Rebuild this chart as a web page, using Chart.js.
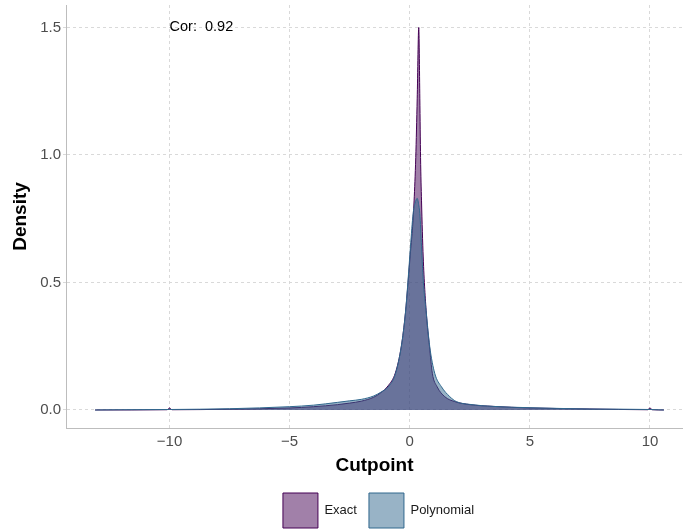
<!DOCTYPE html>
<html lang="en">
<head>
    <meta charset="UTF-8">
    <title>Cutpoint Density</title>
    <script src="https://cdn.jsdelivr.net/npm/chart.js"></script>
    <style>
        body { margin: 0; background: #fff; }
        .chart-box { width: 683px; height: 529px; }
    </style>
</head>
<body>
    <div class="chart-box">
        <canvas id="density-chart"></canvas>
    </div>

    <script>
    // Density curves
    const exactX = [-13.1, -10.1, -10, -9.9, -7.5, -5, -4, -3, -2.5, -2, -1.5, -1.2, -0.9, -0.6, -0.35, -0.18, -0.07,
                    0.03, 0.12, 0.18, 0.25, 0.31, 0.375, 0.42, 0.45, 0.49, 0.56, 0.69, 0.82, 0.94, 1.14, 1.46, 1.87,
                    2.5, 3.5, 5, 7.5, 9.9, 10, 10.1, 10.58];
    const exactY = [0, 0.001, 0.008, 0.001, 0.003, 0.008, 0.013, 0.021, 0.027, 0.035, 0.05, 0.068, 0.095, 0.145, 0.25, 0.38, 0.5,
                    0.62, 0.72, 0.82, 0.99, 1.22, 1.5, 1.22, 0.99, 0.82, 0.6, 0.38, 0.25, 0.144, 0.091, 0.052, 0.033,
                    0.021, 0.014, 0.008, 0.004, 0.001, 0.008, 0.001, 0];

    const polyX = [-13.1, -12, -10, -7.5, -5, -4, -3, -2.5, -2, -1.5, -1.2, -0.9, -0.6, -0.35, -0.18, -0.07,
                   0.03, 0.14, 0.22, 0.31, 0.38, 0.42, 0.49, 0.56, 0.69, 0.83, 1.04, 1.32, 1.67, 1.94,
                   2.5, 3.5, 5, 7.5, 10, 10.58];
    const polyY = [0, 0.001, 0.002, 0.005, 0.013, 0.019, 0.03, 0.036, 0.042, 0.055, 0.07, 0.09, 0.14, 0.25, 0.38, 0.51,
                   0.64, 0.77, 0.81, 0.83, 0.8, 0.77, 0.64, 0.51, 0.38, 0.25, 0.144, 0.091, 0.052, 0.033,
                   0.022, 0.014, 0.009, 0.004, 0.002, 0];

    const xTicks = [-10, -5, 0, 5, 10];
    const yTicks = [0, 0.5, 1, 1.5];
    const corLabel = 'Cor:  0.92';

    const toPoints = (xs, ys) => xs.map((x, i) => ({ x: x, y: ys[i] }));

    // pull the legend down a bit and centre it under the panel
    const legendShift = {
        id: 'legendShift',
        beforeInit(chart) {
            const fit = chart.legend.fit;
            chart.legend.fit = function () {
                fit.bind(chart.legend)();
                this.height -= 9;
            };
        },
        afterLayout(chart) {
            chart.legend.left += 37;
            chart.legend.right += 37;
        }
    };

    // correlation note in the top left
    const corNote = {
        id: 'corNote',
        afterDatasetsDraw(chart) {
            const ctx = chart.ctx;
            ctx.save();
            ctx.font = '14.5px "Liberation Sans", Arial, sans-serif';
            ctx.fillStyle = '#000';
            ctx.textAlign = 'left';
            ctx.textBaseline = 'middle';
            ctx.fillText(corLabel, chart.scales.x.getPixelForValue(-10), chart.scales.y.getPixelForValue(1.5));
            ctx.restore();
        }
    };

    const tickFont = { family: '"Liberation Sans", Arial, sans-serif', size: 15 };
    const titleFont = { family: '"Liberation Sans", Arial, sans-serif', size: 19, weight: 'bold' };

    new Chart(document.getElementById('density-chart'), {
        type: 'line',
        data: {
            datasets: [
                {
                    label: 'Polynomial',
                    data: toPoints(polyX, polyY),
                    borderColor: '#31688E',
                    backgroundColor: 'rgba(49,104,142,0.5)',
                    borderWidth: 1,
                    fill: 'origin',
                    pointRadius: 0,
                    cubicInterpolationMode: 'monotone'
                },
                {
                    label: 'Exact',
                    data: toPoints(exactX, exactY),
                    borderColor: '#440154',
                    backgroundColor: 'rgba(68,1,84,0.5)',
                    borderWidth: 1,
                    fill: 'origin',
                    pointRadius: 0,
                    cubicInterpolationMode: 'monotone'
                }
            ]
        },
        options: {
            responsive: true,
            maintainAspectRatio: false,
            animation: false,
            layout: { padding: { top: 5, right: 0, bottom: 0, left: 0 } },
            plugins: {
                tooltip: { enabled: false },
                legend: {
                    position: 'bottom',
                    reverse: true,
                    labels: {
                        boxWidth: 35,
                        boxHeight: 35,
                        padding: 12,
                        color: '#1A1A1A',
                        font: { family: '"Liberation Sans", Arial, sans-serif', size: 13 }
                    }
                }
            },
            scales: {
                x: {
                    type: 'linear',
                    min: -14.31,
                    max: 11.375,
                    afterBuildTicks: (scale) => { scale.ticks = xTicks.map(v => ({ value: v })); },
                    afterFit: (scale) => {
                        scale.height = 53;
                        scale.paddingLeft = 0;
                        scale.paddingRight = 0;
                    },
                    ticks: {
                        color: '#4D4D4D',
                        font: tickFont,
                        padding: 5,
                        maxRotation: 0,
                        callback: (v) => String(v).replace('-', '\u2212')
                    },
                    grid: {
                        color: '#D9D9D9',
                        drawTicks: false
                    },
                    border: { display: true, color: '#BDBDBD', width: 1, dash: [3, 3] },
                    title: {
                        display: true,
                        text: 'Cutpoint',
                        color: '#000',
                        font: titleFont,
                        padding: { top: 0, bottom: 4 }
                    }
                },
                y: {
                    type: 'linear',
                    min: -0.0706,
                    max: 1.588,
                    afterBuildTicks: (scale) => { scale.ticks = yTicks.map(v => ({ value: v })); },
                    afterFit: (scale) => {
                        scale.width = 66;
                        scale.paddingTop = 0;
                        scale.paddingBottom = 0;
                    },
                    ticks: {
                        color: '#4D4D4D',
                        font: tickFont,
                        padding: 2,
                        callback: (v) => v.toFixed(1)
                    },
                    grid: {
                        color: '#D9D9D9',
                        tickLength: 3,
                        tickBorderDash: [3, 3]
                    },
                    border: { display: true, color: '#BDBDBD', width: 1, dash: [3, 3] },
                    title: {
                        display: true,
                        text: 'Density',
                        color: '#000',
                        font: titleFont,
                        padding: { top: 9, bottom: 0 }
                    }
                }
            }
        },
        plugins: [legendShift, corNote]
    });
    </script>
</body>
</html>
